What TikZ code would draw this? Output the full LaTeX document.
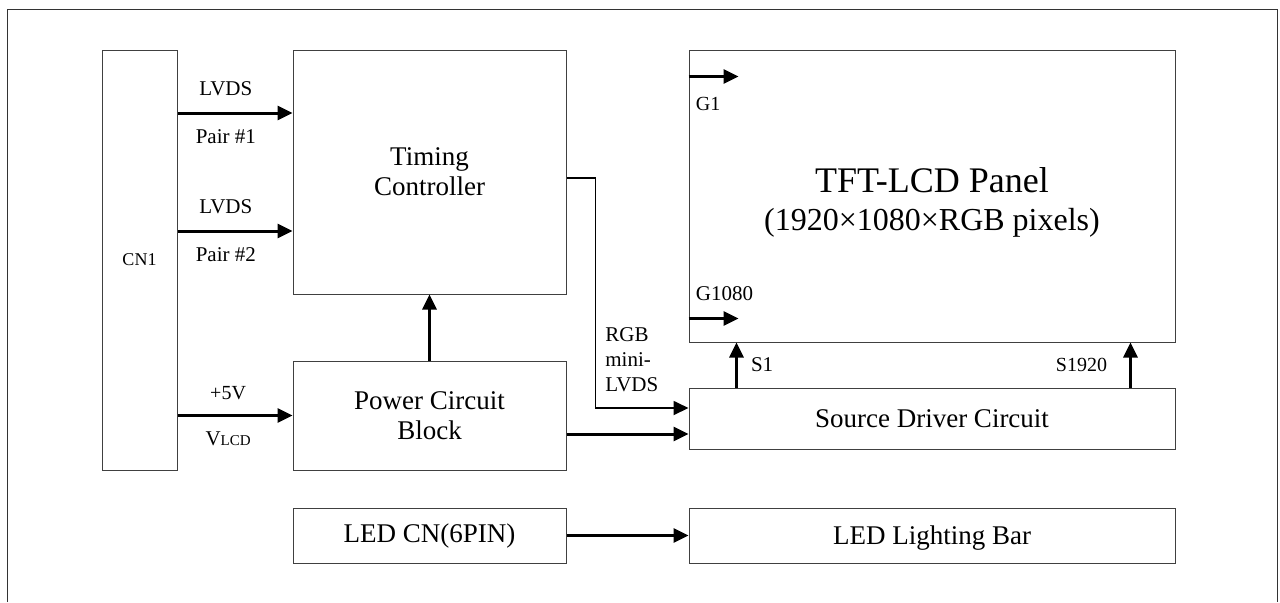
\documentclass[tikz,border=0pt]{standalone}
\usepackage{fontspec}
\setmainfont{Liberation Serif}
\usetikzlibrary{arrows.meta,positioning}

\begin{document}
\begin{tikzpicture}[x=0.5pt,y=-0.5pt,
  blk/.style={draw=black!75, line width=0.5pt, minimum width=136.5pt, inner sep=0pt, align=center, font=\fontsize{13.5}{15}\selectfont},
  wide/.style={blk, minimum width=243pt},
  sig/.style={line width=1.5pt, -{Triangle[length=7.5pt,width=7pt]}},
  bus/.style={sig, line width=0.9pt},
  lbl/.style={inner sep=0pt, font=\fontsize{10.5}{12.5}\selectfont}]
\useasboundingbox (0,0) rectangle (1280,602);
\draw[black!80, line width=0.5pt] (7.5,602) -- (7.5,9) -- (1277,9) -- (1277,602);

% blocks
\node[blk, minimum width=37.5pt, minimum height=210pt, font=\fontsize{9}{11}\selectfont] (cn1) at (139.5,260) {CN1};
\node[blk, minimum height=122pt] (tcon) at (429.5,172) {Timing\\Controller};
\node[blk, minimum height=54.5pt] (power) at (429.5,415.5) {Power Circuit\\Block};
\node[blk, minimum height=27.5pt] (ledcn) at (429.5,535.5) {LED CN(6PIN)};
\node[wide, minimum height=146pt] (panel) at (932,196) {};
\node[anchor=base, font=\fontsize{18}{22}\selectfont] (title) at (932,192) {TFT-LCD Panel};
\node[anchor=base, font=\fontsize{16}{19}\selectfont] (subtitle) at (932,230) {(1920×1080×RGB pixels)};
\node[wide, minimum height=30.5pt] (source) at (932,418.5) {Source Driver Circuit};
\node[wide, minimum height=27.5pt, text depth=0pt] (ledbar) at (932,535.5) {LED Lighting Bar};

% CN1 to timing controller and power
\coordinate (lvdsA) at ([yshift=29.5pt]tcon.west);
\coordinate (lvdsB) at ([yshift=-29.5pt]tcon.west);
\draw[sig] (cn1.east |- lvdsA) -- node[lbl, pos=.42, above=8pt] (lvds1) {LVDS} node[lbl, pos=.42, below=7.5pt] (pair1) {Pair \#1} (lvdsA);
\draw[sig] (cn1.east |- lvdsB) -- node[lbl, pos=.42, above=8pt] (lvds2) {LVDS} node[lbl, pos=.42, below=7.5pt] (pair2) {Pair \#2} (lvdsB);
\draw[sig] (cn1.east |- power.west) -- node[lbl, pos=.44, above=7pt, font=\fontsize{10}{12}\selectfont] (vin) {+5V} node[lbl, pos=.44, below=7.5pt] (vlcd) {V{\fontsize{7.5}{9}\selectfont LCD}} (power.west);
\draw[sig] (power.north) -- (tcon.south);

% to source driver
\draw[bus] ([yshift=-3pt]tcon.east) -- ++(29,0) coordinate (rgbturn) |- ([yshift=5.25pt]source.west);
\node[lbl, align=left, anchor=north west, font=\fontsize{10.5}{12.5}\selectfont] (rgb) at (605,327) {RGB\\mini-\\LVDS};
\coordinate (pwrout) at ([yshift=-9.25pt]power.east);
\draw[sig] (pwrout) -- (pwrout -| source.west);

% gate and source lines
\coordinate (g1) at ([yshift=-13.5pt]panel.north west);
\coordinate (g1080) at ([yshift=12pt]panel.south west);
\draw[sig] (g1) -- ++(50,0);
\draw[sig] (g1080) -- ++(50,0);
\node[lbl, anchor=north west, font=\fontsize{10}{12}\selectfont] (g1lbl) at ([xshift=3.5pt, yshift=-10pt]g1) {G1};
\node[lbl, anchor=south west] (g1080lbl) at ([xshift=3.5pt, yshift=8.5pt]g1080) {G1080};
\coordinate (s1) at ([xshift=24pt]source.north west);
\coordinate (s1920) at ([xshift=-22.5pt]source.north east);
\draw[sig] (s1) -- (s1 |- panel.south) node[lbl, midway, right=6.5pt] (s1lbl) {S1};
\draw[sig] (s1920) -- (s1920 |- panel.south) node[lbl, midway, left=11pt, font=\fontsize{10}{12}\selectfont] (s1920lbl) {S1920};

% backlight
\draw[sig] (ledcn.east) -- (ledbar.west);

\end{tikzpicture}
\end{document}
